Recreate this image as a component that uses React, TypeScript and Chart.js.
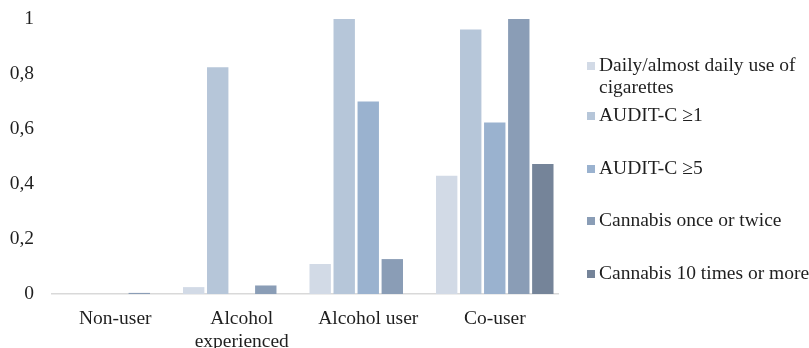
import React, { useEffect, useRef } from "react";
import { Chart, registerables } from "chart.js";

Chart.register(...registerables);

const categories: (string | string[])[] = ["Non-user", ["Alcohol", "experienced"], "Alcohol user", "Co-user"];

const seriesNames: string[][] = [
  ["Daily/almost daily use of", "cigarettes"],
  ["AUDIT-C \u22651"],
  ["AUDIT-C \u22655"],
  ["Cannabis once or twice"],
  ["Cannabis 10 times or more"],
];

const dailyCigarettes = [0, 0.025, 0.109, 0.43];
const auditC1 = [0, 0.825, 1.0, 0.962];
const auditC5 = [0, 0, 0.70, 0.624];
const cannabisOnceTwice = [0.004, 0.031, 0.127, 1.0];
const cannabis10Plus = [0, 0, 0, 0.473];

const colors = ["#d2dae6", "#b6c6d9", "#9ab2cf", "#8a9db6", "#758499"];

const yTicks = [0, 0.2, 0.4, 0.6, 0.8, 1];

const FONT = "'Liberation Serif', 'Times New Roman', serif";
const FS = 19.5;
const TEXT = "#1f1f1f";

const legendPlugin = {
  id: "customLegend",
  afterDraw(chart: any) {
    const ctx = chart.ctx;
    const centers = [66, 116, 169, 221, 274];
    ctx.save();
    ctx.font = `${FS}px ${FONT}`;
    ctx.textBaseline = "middle";
    ctx.textAlign = "left";
    seriesNames.forEach((lines, i) => {
      const cy = centers[i];
      ctx.fillStyle = colors[i];
      ctx.fillRect(587, cy - 4, 8, 8);
      ctx.fillStyle = TEXT;
      lines.forEach((t, j) => {
        ctx.fillText(t, 599, cy + j * 22);
      });
    });
    ctx.restore();
  },
};

export default function App() {
  const ref = useRef<HTMLCanvasElement | null>(null);
  useEffect(() => {
    if (!ref.current) return;
    const data = [dailyCigarettes, auditC1, auditC5, cannabisOnceTwice, cannabis10Plus];
    const chart = new Chart(ref.current, {
      type: "bar",
      data: {
        labels: categories,
        datasets: data.map((d, i) => ({
          label: seriesNames[i].join(" "),
          data: d,
          backgroundColor: colors[i],
          borderWidth: 0,
          categoryPercentage: 0.95,
          barPercentage: 0.89,
        })),
      },
      options: {
        responsive: false,
        animation: false,
        layout: { padding: { top: 19, right: 251, left: 0, bottom: 0 } },
        plugins: {
          legend: { display: false },
          tooltip: { enabled: false },
        },
        scales: {
          x: {
            grid: { display: false, drawTicks: false },
            border: { display: true, color: "#d9d9d9", width: 1.5 },
            ticks: {
              color: TEXT,
              font: { family: FONT, size: FS, lineHeight: 1.18 },
              padding: 13,
              maxRotation: 0,
              autoSkip: false,
            },
            afterFit: (s: any) => {
              s.height = 54;
              s.paddingLeft = 0;
              s.paddingRight = 0;
            },
          },
          y: {
            min: 0,
            max: 1,
            afterBuildTicks: (s: any) => {
              s.ticks = yTicks.map((v) => ({ value: v }));
            },
            grid: { display: false, drawTicks: false },
            border: { display: false },
            ticks: {
              color: TEXT,
              font: { family: FONT, size: FS },
              padding: 18,
              callback: (v: any) => {
                const n = Number(v);
                if (n === 0) return "0";
                if (n === 1) return "1";
                return n.toFixed(1).replace(".", ",");
              },
            },
            afterFit: (s: any) => {
              s.width = 52;
              s.paddingTop = 0;
              s.paddingBottom = 0;
            },
          },
        },
      },
      plugins: [legendPlugin],
    });
    return () => chart.destroy();
  }, []);
  return (
    <div style={{ position: "absolute", left: 0, top: 0, width: 809, height: 348, background: "#fff" }}>
      <canvas ref={ref} width={809} height={348} />
    </div>
  );
}
